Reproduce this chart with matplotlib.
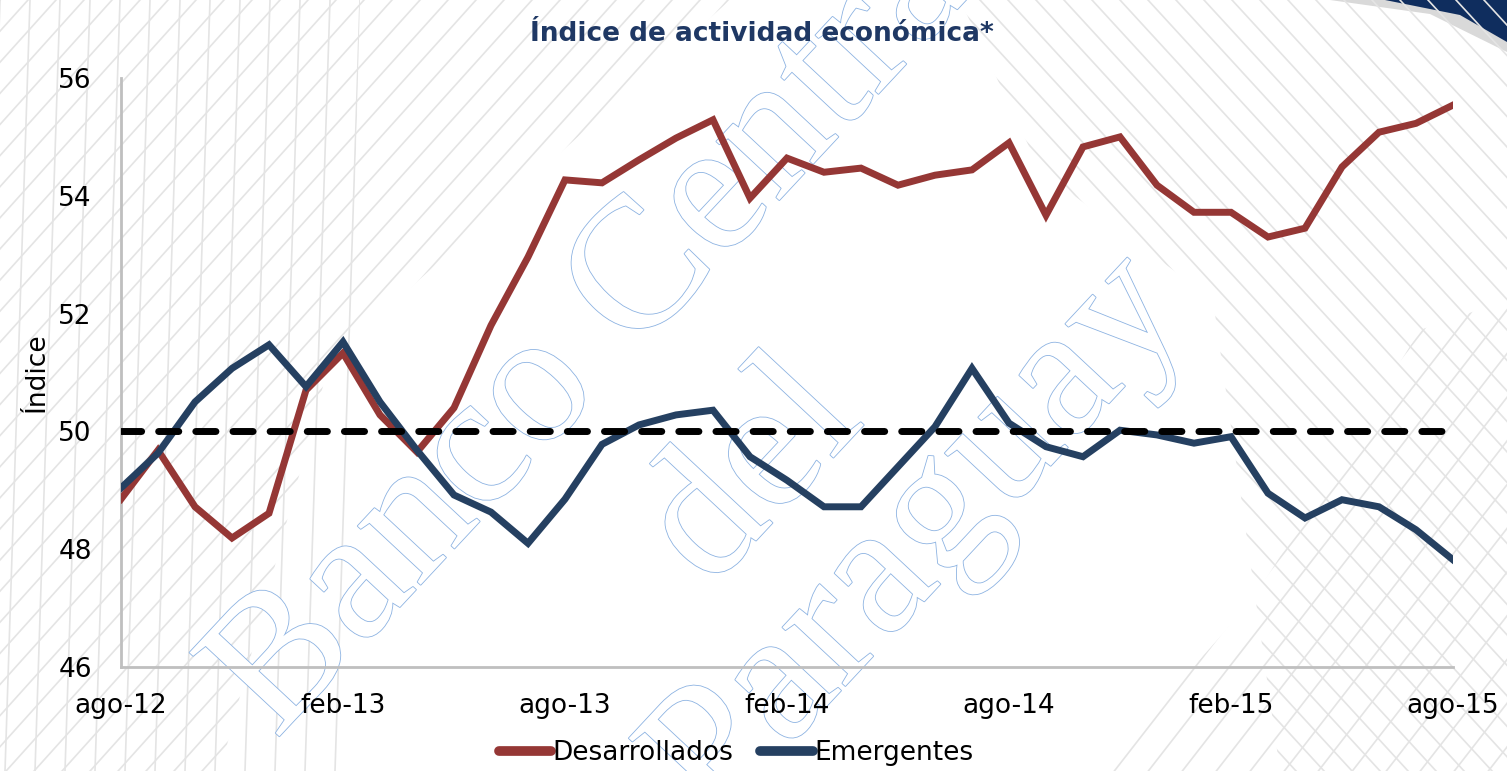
import numpy as np
import matplotlib
matplotlib.use("Agg")
import matplotlib.pyplot as plt
import matplotlib.patheffects as pe
from matplotlib.patches import Polygon

# Datos
meses = ["ago-12", "feb-13", "ago-13", "feb-14", "ago-14", "feb-15", "ago-15"]
desarrollados = [48.85, 49.68, 48.72, 48.19, 48.61, 50.70, 51.33, 50.28, 49.65, 50.40,
                 51.80, 52.96, 54.27, 54.22, 54.61, 54.98, 55.29, 53.96, 54.64, 54.40,
                 54.47, 54.18, 54.35, 54.44, 54.90, 53.67, 54.83, 55.00, 54.18, 53.72,
                 53.72, 53.30, 53.45, 54.49, 55.08, 55.23, 55.54]
emergentes = [49.04, 49.63, 50.50, 51.07, 51.47, 50.76, 51.52, 50.50, 49.68, 48.92,
              48.63, 48.10, 48.85, 49.78, 50.11, 50.28, 50.36, 49.57, 49.17, 48.72,
              48.72, 49.40, 50.08, 51.07, 50.14, 49.74, 49.57, 50.02, 49.94, 49.80,
              49.91, 48.95, 48.53, 48.84, 48.72, 48.33, 47.82]
umbral = 50

rojo = "#953735"
azul = "#254061"
navy = "#1F3864"
W, H = 1507, 771

fig = plt.figure(figsize=(15.07, 7.71), dpi=100)
fig.patch.set_facecolor("white")

# fondo: rayado gris claro de la plantilla
bg = fig.add_axes([0, 0, 1, 1], zorder=-2)
bg.set_xlim(0, W)
bg.set_ylim(H, 0)
bg.axis("off")
gris = "#E4E4E4"

def rayas(zona, x0s, dx, dy, lw=1.2):
    poly = Polygon(zona, closed=True, transform=bg.transData, fill=False, lw=0)
    for c in x0s:
        l, = bg.plot([c, c + dx], [0, dy], color=gris, lw=lw)
        l.set_clip_path(poly)

# arriba a la izquierda: diagonales "/" y casi verticales
rayas([(0, 0), (730, 0), (330, 360), (220, H), (0, H)], np.arange(0, 1700, 28), -900, 1000)
rayas([(0, 0), (360, 0), (340, H), (0, H)], np.arange(0, 380, 30), -25, H)
# derecha: diagonales "\"
rayas([(960, 0), (W, 0), (W, H), (1280, H), (1213, 300), (1040, 170)],
      np.arange(0, 2600, 28), 900, 980)
# abajo a la derecha: diagonales "/"
rayas([(1253, 600), (1420, 330), (W, 300), (W, H), (1100, H)],
      np.arange(1000, 3000, 34), -700, 900)
# esquina azul
bg.add_patch(Polygon([(1330, 0), (W, 0), (W, 52), (1430, 14)], closed=True,
                     facecolor="#D9D9D9", edgecolor="none"))
bg.add_patch(Polygon([(1385, 0), (W, 0), (W, 42), (1460, 15)], closed=True,
                     facecolor="#0F2D5E", edgecolor="none"))

# marca de agua
wm = dict(fontsize=135, family="Liberation Serif", color="white", rotation=47,
          ha="center", va="center", zorder=-1,
          path_effects=[pe.withStroke(linewidth=1.2, foreground="#8DB3E2")])
fig.text(610/W, 1-315/H, "Banco Central", **wm)
fig.text(755/W, 1-475/H, "del", **wm)
fig.text(920/W, 1-540/H, "Paraguay", **wm)

ax = fig.add_axes([121/W, 1-667/H, 1332/W, 589/H])
ax.patch.set_alpha(0)

x = np.arange(len(desarrollados))
ax.plot(x, desarrollados, color=rojo, lw=5, solid_joinstyle="miter", label="Desarrollados", zorder=3)
ax.plot(x, emergentes, color=azul, lw=5, solid_joinstyle="miter", label="Emergentes", zorder=4)
linea, = ax.plot([x[0], x[-1] - 0.27], [umbral, umbral], color="black", lw=5, zorder=5,
                 dash_capstyle="round")
linea.set_dashes((2.9, 2.45))

ax.set_xlim(0, len(x) - 1)
ax.set_ylim(46, 56)
ax.set_yticks(np.arange(46, 57, 2))
ax.set_xticks(np.arange(0, len(x), 6))
ax.set_xticklabels(meses)
ax.tick_params(length=0, labelsize=19, pad=19)
ax.tick_params(axis="y", pad=21)
for s in ["top", "right"]:
    ax.spines[s].set_visible(False)
for s in ["left", "bottom"]:
    ax.spines[s].set_color("#BFBFBF")
    ax.spines[s].set_linewidth(2)
ax.set_ylabel("Índice", fontsize=19, labelpad=6)

fig.text(762/W, 1-34/H, "Índice de actividad económica*", fontsize=19, fontweight="bold",
         family="DejaVu Sans", color=navy, ha="center", va="center")

leg = fig.legend(loc="center", bbox_to_anchor=(736/W, 1-753/H), ncol=2, frameon=False,
                 fontsize=19, handlelength=2.0, handletextpad=0.05, columnspacing=1.0)
for h in leg.get_lines():
    h.set_linewidth(7)
    h.set_solid_capstyle("round")

fig.savefig("out.png", dpi=100)
